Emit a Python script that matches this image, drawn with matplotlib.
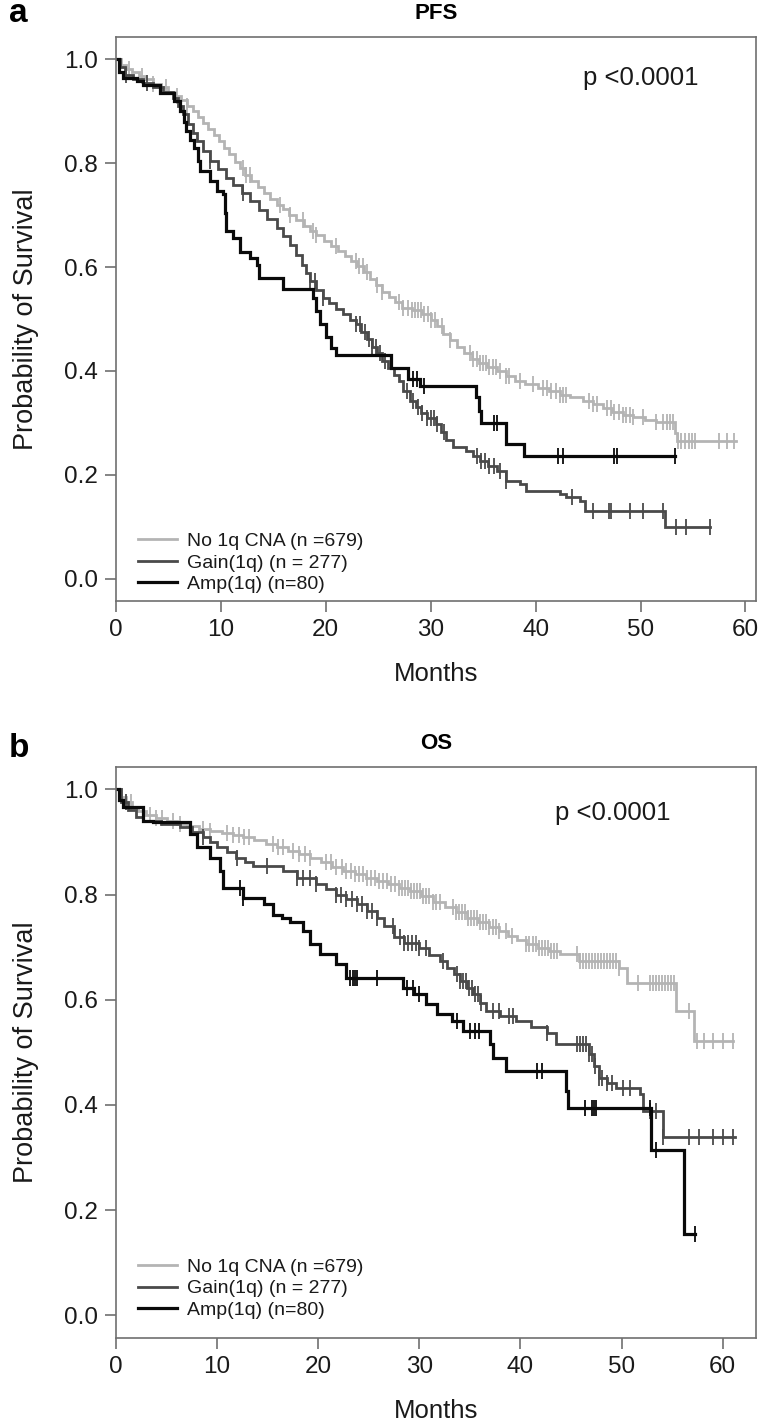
import matplotlib
matplotlib.use("Agg")
import matplotlib.pyplot as plt
import numpy as np

plt.rcParams['font.family'] = ['Liberation Sans', 'DejaVu Sans']

GREY = "#b4b4b4"
DARK = "#4a4a4a"
BLACK = "#0a0a0a"
SPINE = "#707070"

labels = ["No 1q CNA (n =679)", "Gain(1q) (n = 277)", "Amp(1q) (n=80)"]

# -----------------------------
# PFS (panel a)
# step times / survival after each step (last entry = end of follow-up)
# -----------------------------
pfs_none_t = [0, 0.5, 1.0, 1.5, 2.2, 2.8, 3.5, 4.3, 5.0, 5.6, 6.2, 6.8, 7.3, 7.8, 8.3, 8.8,
              9.3, 9.8, 10.3, 10.8, 11.3, 11.8, 12.3, 12.9, 13.5, 14.1, 14.7, 15.3, 15.9,
              16.5, 17.2, 17.9, 18.5, 19.1, 19.8, 20.5, 21.2, 21.8, 22.4, 23.0, 23.6, 24.2,
              24.8, 25.4, 26.0, 26.6, 27.3, 28.2, 29.2, 30.0, 30.6, 31.2, 31.8, 32.5, 33.2,
              33.9, 34.6, 35.4, 36.3, 37.2, 38.0, 39.0, 40.2, 41.3, 42.3, 43.3, 44.5, 45.5,
              46.4, 47.3, 48.3, 49.3, 50.4, 51.5, 53.3, 53.5, 59.1]
pfs_none_s = [1.0, 0.990, 0.982, 0.975, 0.968, 0.962, 0.952, 0.946, 0.938, 0.930, 0.921, 0.911,
              0.900, 0.889, 0.878, 0.866, 0.855, 0.842, 0.830, 0.817, 0.803, 0.790, 0.777,
              0.766, 0.754, 0.742, 0.731, 0.720, 0.711, 0.701, 0.690, 0.680, 0.670, 0.661,
              0.650, 0.641, 0.631, 0.622, 0.612, 0.602, 0.590, 0.578, 0.566, 0.553, 0.542,
              0.532, 0.522, 0.517, 0.510, 0.498, 0.486, 0.472, 0.460, 0.446, 0.434, 0.424,
              0.416, 0.408, 0.400, 0.390, 0.381, 0.375, 0.368, 0.361, 0.354, 0.349, 0.343,
              0.336, 0.329, 0.322, 0.316, 0.311, 0.306, 0.302, 0.280, 0.266, 0.266]
pfs_none_c = [1.2, 2.5, 3.5, 4.8, 5.8, 6.8, 12.1, 12.4, 12.8, 15.6, 16.6, 17.8, 18.8, 19.1,
              21.0, 22.9, 23.2, 23.5, 23.9, 24.9, 25.4, 27.0, 27.4, 27.8, 28.2, 28.5, 28.8,
              29.1, 29.4, 29.7, 30.0, 30.4, 31.1, 31.8, 33.7, 34.0, 34.4, 34.7, 35.0, 35.3,
              35.6, 35.9, 36.2, 36.6, 37.2, 37.5, 38.5, 39.7, 40.7, 41.1, 41.5, 41.9, 42.3,
              42.6, 42.9, 45.1, 45.5, 45.8, 46.8, 47.2, 47.5, 47.9, 48.3, 48.6, 49.0, 49.3,
              50.2, 51.5, 52.1, 52.5, 52.8, 53.1, 53.6, 53.9, 54.2, 54.6, 54.9, 55.2, 57.5,
              58.2, 58.9]

pfs_gain_t = [0, 0.4, 0.9, 1.6, 2.6, 3.5, 4.5, 5.4, 5.9, 6.4, 6.9, 7.3, 7.7, 8.3, 9.0, 9.7,
              10.5, 11.2, 12.0, 12.8, 13.6, 14.4, 15.3, 15.9, 16.6, 17.2, 17.7, 18.1, 18.5,
              19.1, 19.7, 20.3, 21.0, 21.6, 22.3, 22.9, 23.4, 23.9, 24.4, 24.9, 25.4, 25.9,
              26.5, 27.0, 27.4, 28.0, 28.6, 29.1, 29.6, 30.5, 31.0, 31.5, 32.1, 33.4, 34.0,
              34.7, 35.5, 36.3, 37.2, 38.5, 39.1, 42.3, 42.9, 44.2, 44.7, 52.3, 56.6]
pfs_gain_s = [1.0, 0.985, 0.970, 0.962, 0.955, 0.946, 0.938, 0.925, 0.910, 0.894, 0.876, 0.858,
              0.842, 0.823, 0.804, 0.788, 0.772, 0.758, 0.742, 0.727, 0.710, 0.693, 0.676,
              0.660, 0.642, 0.624, 0.605, 0.588, 0.573, 0.556, 0.541, 0.530, 0.519, 0.509,
              0.499, 0.490, 0.475, 0.461, 0.447, 0.434, 0.420, 0.406, 0.393, 0.381, 0.362,
              0.342, 0.330, 0.320, 0.310, 0.297, 0.283, 0.268, 0.253, 0.246, 0.236, 0.227,
              0.217, 0.208, 0.188, 0.182, 0.169, 0.163, 0.157, 0.150, 0.131, 0.099, 0.099]
pfs_gain_c = [1.0, 3.0, 9.0, 12.1, 18.5, 19.0, 19.7, 22.9, 23.3, 23.7, 24.1, 24.4, 24.8, 25.2,
              25.6, 27.7, 28.3, 28.8, 29.2, 29.6, 30.0, 30.3, 30.6, 31.3, 34.4, 34.8, 35.2,
              35.6, 36.0, 36.6, 37.2, 43.5, 45.5, 47.0, 47.2, 49.0, 50.2, 52.1, 53.4, 54.3,
              56.6]

pfs_amp_t = [0, 0.3, 0.7, 2.0, 2.6, 4.2, 5.5, 6.1, 6.5, 6.7, 7.1, 7.4, 7.8, 8.0, 9.0, 9.6,
             10.2, 10.4, 10.5, 11.2, 11.8, 12.8, 13.4, 13.6, 15.9, 18.8, 19.1, 19.4, 20.0,
             20.5, 21.0, 26.2, 27.8, 29.0, 34.3, 34.6, 34.8, 37.2, 38.9, 53.3]
pfs_amp_s = [1.0, 0.975, 0.964, 0.958, 0.951, 0.935, 0.919, 0.900, 0.880, 0.862, 0.845, 0.830,
             0.805, 0.785, 0.765, 0.746, 0.740, 0.705, 0.670, 0.656, 0.630, 0.618, 0.605,
             0.579, 0.557, 0.540, 0.515, 0.490, 0.465, 0.445, 0.430, 0.405, 0.385, 0.371,
             0.349, 0.323, 0.299, 0.259, 0.237, 0.237]
pfs_amp_c = [28.3, 28.7, 29.4, 36.0, 36.3, 42.1, 42.6, 47.5, 47.8, 53.3]

# -----------------------------
# OS (panel b)
# -----------------------------
os_none_t = [0, 0.5, 1.0, 1.6, 2.2, 3.0, 4.0, 5.0, 6.0, 7.0, 8.2, 9.3, 10.5, 11.6, 12.6, 13.7,
             14.8, 15.9, 17.0, 18.1, 19.2, 20.3, 21.4, 22.5, 23.6, 24.7, 25.8, 26.9, 28.0,
             29.1, 30.2, 31.4, 32.5, 33.6, 34.7, 35.8, 36.9, 37.9, 38.8, 39.7, 40.6, 41.7,
             42.8, 43.9, 45.8, 49.8, 50.5, 55.4, 57.2, 61.0]
os_none_s = [1.0, 0.985, 0.975, 0.966, 0.958, 0.951, 0.945, 0.939, 0.934, 0.930, 0.925, 0.921,
             0.917, 0.913, 0.909, 0.903, 0.896, 0.890, 0.883, 0.877, 0.870, 0.862, 0.853,
             0.845, 0.839, 0.832, 0.826, 0.820, 0.813, 0.807, 0.797, 0.786, 0.776, 0.766,
             0.756, 0.747, 0.739, 0.731, 0.722, 0.714, 0.705, 0.698, 0.692, 0.686, 0.674,
             0.661, 0.632, 0.579, 0.521, 0.521]
os_none_c = [1.5, 3.4, 4.0, 4.6, 5.6, 6.3, 8.6, 9.3, 11.0, 11.6, 12.2, 12.7, 13.2, 15.5, 16.0,
             16.5, 17.5, 18.1, 18.7, 19.2, 20.8, 21.3, 21.8, 22.4, 22.8, 23.2, 23.6, 24.0,
             24.4, 24.8, 25.2, 25.6, 26.0, 26.4, 26.8, 27.2, 27.6, 28.0, 28.3, 28.6, 28.9,
             29.2, 29.5, 29.8, 30.1, 30.4, 30.7, 31.0, 31.4, 31.7, 32.0, 33.3, 33.6, 33.9,
             34.2, 34.5, 34.8, 35.1, 35.4, 35.7, 36.0, 36.3, 36.6, 36.9, 37.3, 37.6, 37.9,
             38.6, 39.2, 40.6, 40.9, 41.2, 41.5, 41.8, 42.1, 42.4, 42.7, 43.0, 43.3, 43.6,
             45.6, 45.9, 46.2, 46.5, 46.8, 47.1, 47.4, 47.7, 48.0, 48.3, 48.6, 48.9, 49.2,
             49.5, 49.8, 51.6, 52.8, 53.1, 53.4, 53.7, 54.0, 54.3, 54.6, 54.9, 55.2, 56.7,
             57.5, 58.2, 59.0, 60.0, 61.0]

os_gain_t = [0, 0.5, 1.2, 2.0, 2.7, 4.5, 6.3, 7.5, 8.6, 9.3, 10.0, 11.0, 11.9, 12.8, 13.6,
             16.5, 17.9, 19.8, 20.8, 21.8, 22.8, 23.8, 24.8, 25.8, 26.5, 27.5, 28.5, 30.0,
             31.0, 32.0, 32.7, 33.4, 34.0, 34.7, 35.3, 36.0, 36.6, 38.0, 39.6, 41.0, 42.6,
             43.5, 46.8, 47.3, 47.8, 48.6, 49.5, 51.8, 52.1, 54.1, 61.2]
os_gain_s = [1.0, 0.975, 0.960, 0.948, 0.940, 0.934, 0.928, 0.918, 0.909, 0.899, 0.890, 0.880,
             0.870, 0.862, 0.855, 0.845, 0.832, 0.820, 0.810, 0.800, 0.791, 0.782, 0.769,
             0.756, 0.740, 0.720, 0.708, 0.698, 0.685, 0.674, 0.660, 0.648, 0.636, 0.623,
             0.610, 0.594, 0.578, 0.569, 0.559, 0.548, 0.537, 0.515, 0.496, 0.474, 0.451,
             0.442, 0.432, 0.420, 0.388, 0.340, 0.340]
os_gain_c = [1.0, 8.6, 12.0, 14.9, 17.9, 18.5, 19.2, 19.8, 21.8, 22.3, 22.8, 23.3, 23.8, 24.3,
             24.8, 25.3, 25.8, 27.4, 28.1, 28.5, 28.9, 29.3, 29.7, 30.0, 30.7, 32.3, 33.7,
             34.0, 34.3, 34.6, 34.9, 35.2, 35.5, 35.8, 36.1, 37.3, 37.9, 38.9, 39.3, 42.6,
             45.6, 45.9, 46.2, 46.5, 46.8, 47.1, 47.4, 47.8, 48.1, 48.6, 49.1, 50.1, 50.8,
             52.8, 53.4, 54.1, 56.7, 57.7, 59.0, 60.0, 61.0]

os_amp_t = [0, 0.3, 0.7, 2.7, 3.7, 7.3, 8.0, 9.3, 10.3, 10.6, 12.6, 14.6, 15.5, 16.4, 17.2,
            18.5, 19.2, 20.2, 21.8, 22.8, 28.4, 29.5, 30.7, 31.8, 33.2, 34.3, 37.0, 37.3,
            38.6, 44.5, 44.7, 52.9, 56.2, 57.3]
os_amp_s = [1.0, 0.980, 0.966, 0.940, 0.937, 0.915, 0.890, 0.870, 0.845, 0.813, 0.794, 0.782,
            0.762, 0.755, 0.747, 0.730, 0.705, 0.686, 0.667, 0.642, 0.623, 0.610, 0.591,
            0.572, 0.560, 0.540, 0.515, 0.490, 0.464, 0.426, 0.394, 0.315, 0.155, 0.155]
os_amp_c = [12.3, 12.6, 23.1, 23.4, 23.6, 23.8, 25.8, 28.8, 29.4, 30.0, 33.7, 35.0, 35.5,
            35.9, 41.6, 42.1, 46.4, 47.1, 47.3, 47.5, 52.8, 53.4, 57.3]


def surv_at(t, s, times):
    idx = np.searchsorted(t, times, side="right") - 1
    return np.asarray(s)[idx]


def draw_panel(ax, curves, xmax, title, ptext_x, ptext_y, legend_y):
    handles = []
    for (t, s, c, color, lw), lab in zip(curves, labels):
        h, = ax.step(t, s, where="post", color=color, lw=lw, label=lab,
                     solid_joinstyle="miter")
        ax.plot(c, surv_at(t, s, c), ls="none", marker="|", ms=12,
                mew=1.3, color=color)
        handles.append(h)

    ax.set_xlim(0, xmax)
    ax.set_ylim(-0.043, 1.043)
    ax.set_xticks([0, 10, 20, 30, 40, 50, 60])
    ax.set_yticks([0.0, 0.2, 0.4, 0.6, 0.8, 1.0])
    ax.set_yticklabels(["0.0", "0.2", "0.4", "0.6", "0.8", "1.0"])
    ax.tick_params(direction="out", length=8, width=1.2, color=SPINE,
                   labelsize=17.5, labelcolor="#1a1a1a", pad=5)
    for sp in ax.spines.values():
        sp.set_color(SPINE)
        sp.set_linewidth(1.2)

    ax.set_xlabel("Months", fontsize=18.5, color="#1a1a1a", labelpad=15)
    ax.set_ylabel("Probability of Survival", fontsize=19.5, color="#1a1a1a", labelpad=18)
    ax.set_title(title, fontsize=16, fontweight="bold", pad=13)
    ax.text(ptext_x, ptext_y, "p <0.0001", fontsize=18.5, va="center", ha="left",
            color="#1a1a1a")

    leg = ax.legend(handles=handles, loc="lower left", bbox_to_anchor=(0.022, legend_y),
                    frameon=False, fontsize=14, handlelength=2.0, handletextpad=0.55,
                    labelspacing=0.2, borderaxespad=0)
    for txt in leg.get_texts():
        txt.set_color("#1a1a1a")


fig = plt.figure(figsize=(7.64, 14.25), dpi=100)

ax_a = fig.add_axes([0.1518, 0.5782, 0.8377, 0.3958])
draw_panel(ax_a,
           [(pfs_none_t, pfs_none_s, pfs_none_c, GREY, 2.0),
            (pfs_gain_t, pfs_gain_s, pfs_gain_c, DARK, 2.0),
            (pfs_amp_t, pfs_amp_s, pfs_amp_c, BLACK, 2.3)],
           61.0, "PFS", 44.5, 0.965, 0.0)

ax_b = fig.add_axes([0.1518, 0.0610, 0.8377, 0.4010])
draw_panel(ax_b,
           [(os_none_t, os_none_s, os_none_c, GREY, 2.0),
            (os_gain_t, os_gain_s, os_gain_c, DARK, 2.0),
            (os_amp_t, os_amp_s, os_amp_c, BLACK, 2.3)],
           63.3, "OS", 43.4, 0.955, 0.02)

fig.text(0.012, 1 - 14 / 1425, "a", fontsize=24, fontweight="bold", va="center", ha="left")
fig.text(0.012, 1 - 748 / 1425, "b", fontsize=24, fontweight="bold", va="center", ha="left")

fig.savefig("out.png", dpi=100)
